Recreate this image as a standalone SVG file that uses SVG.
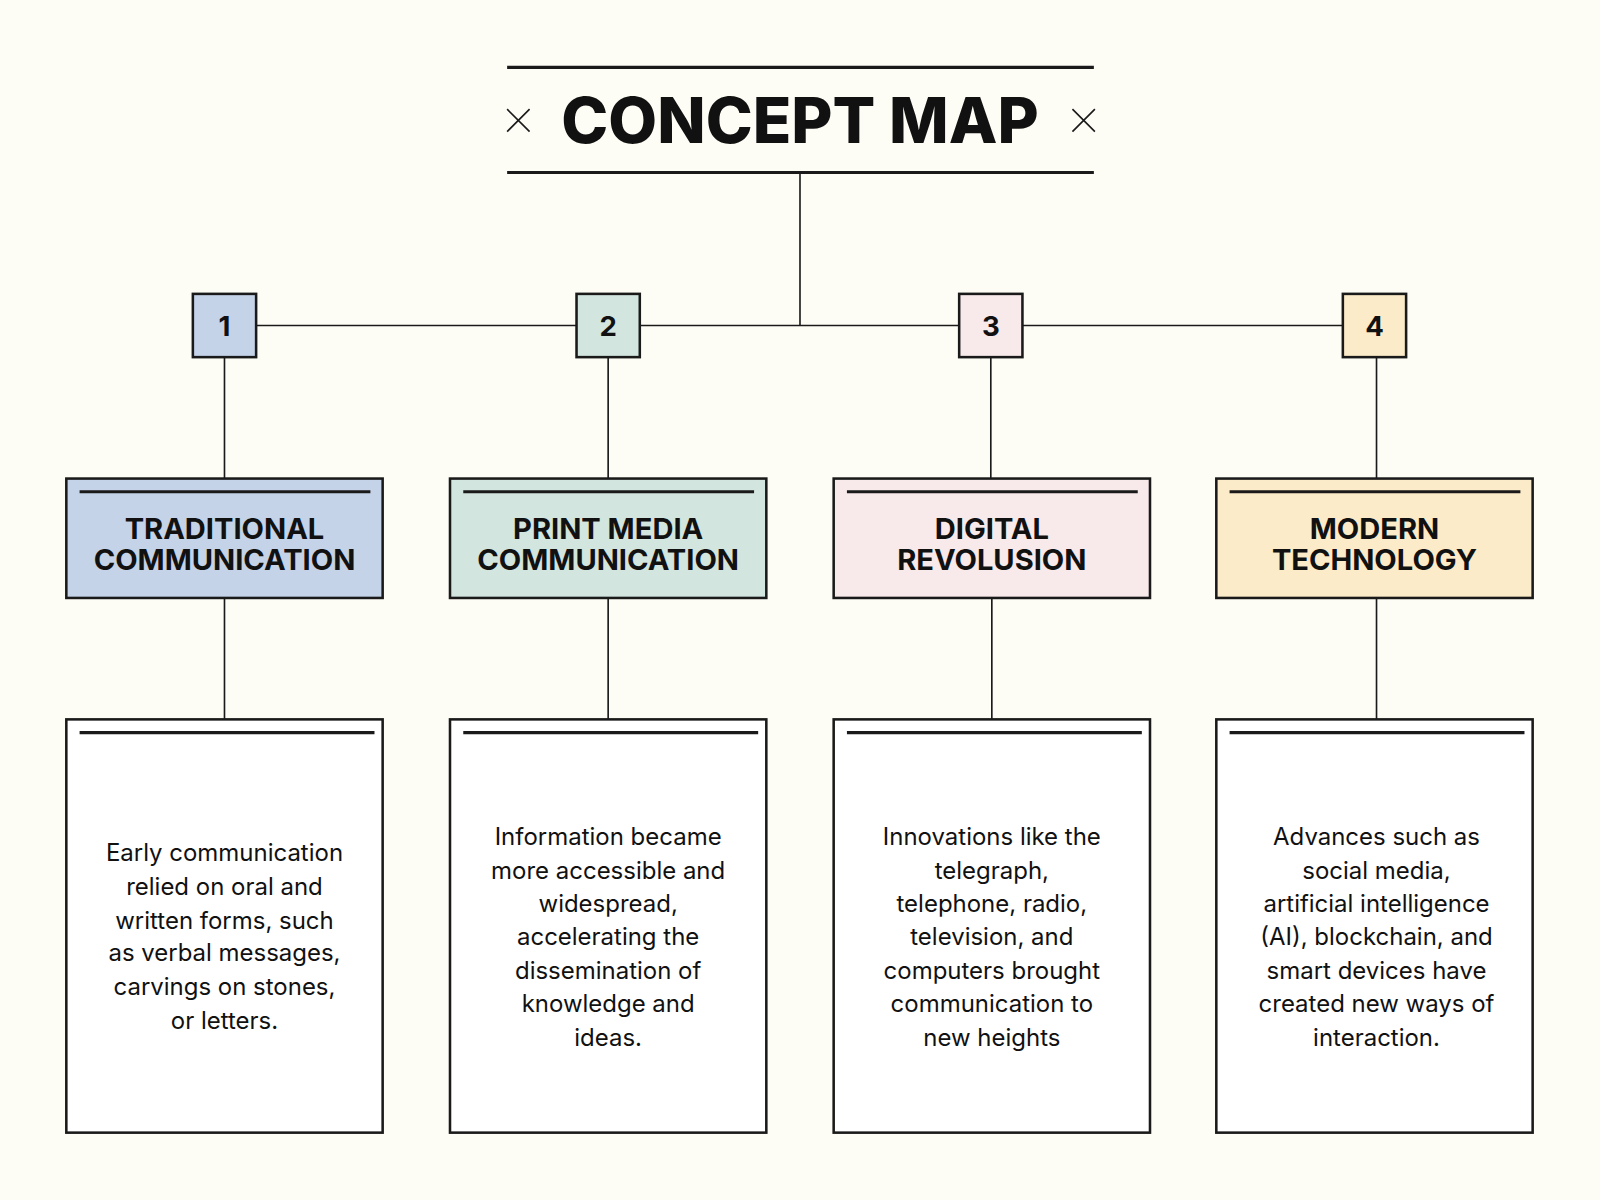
<svg xmlns="http://www.w3.org/2000/svg" width="1600" height="1200" viewBox="0 0 1600 1200">
<style>
.ln{stroke:#1a1a1a;stroke-width:1.6;fill:none}
.bx{stroke:#1a1a1a;stroke-width:2.5}
.th{stroke:#1a1a1a;stroke-width:3}
.num{font-family:Inter,"Liberation Sans",sans-serif;font-weight:700;font-size:27px;text-anchor:middle;fill:#111}
.hd{font-family:Inter,"Liberation Sans",sans-serif;font-weight:700;font-size:28.5px;text-anchor:middle;fill:#111}
.bd{font-family:Inter,"Liberation Sans",sans-serif;font-size:23.5px;text-anchor:middle;fill:#111}
</style>
<rect width="1600" height="1200" fill="#fefdf5"/>
<g transform="scale(1.0204)">
<g id="title">
<line class="th" x1="497" y1="66" x2="1072" y2="66"/>
<line class="th" x1="497" y1="169" x2="1072" y2="169"/>
<path class="ln" stroke-width="2.5" d="M497 107l22 22M519 107l-22 22M1051 107l22 22M1073 107l-22 22"/>
<text x="784" y="140" font-family="Inter,'Liberation Sans',sans-serif" font-weight="800" font-size="62" text-anchor="middle" fill="#111">CONCEPT MAP</text>
</g>
<g id="connectors">
<line class="ln" x1="784" y1="169" x2="784" y2="319"/>
<line class="ln" x1="220" y1="319" x2="1347" y2="319"/>
<path class="ln" d="M220 350V469M596 350V469M971 350V469M1349 350V469M220 586V705M596 586V705M972 586V705M1349 586V705"/>
</g>
<g id="n1"><rect class="bx" x="189" y="288" width="62" height="62" fill="#c5d3e8"/><text class="num" x="220" y="329">1</text></g>
<g id="n2"><rect class="bx" x="565" y="288" width="62" height="62" fill="#d3e5df"/><text class="num" x="596" y="329">2</text></g>
<g id="n3"><rect class="bx" x="940" y="288" width="62" height="62" fill="#f8e9ea"/><text class="num" x="971" y="329">3</text></g>
<g id="n4"><rect class="bx" x="1316" y="288" width="62" height="62" fill="#fbebc8"/><text class="num" x="1347" y="329">4</text></g>
<g id="h1"><rect class="bx" x="65" y="469" width="310" height="117" fill="#c5d3e8"/><line class="th" x1="78" y1="482" x2="363" y2="482"/><text class="hd" x="220" y="528">TRADITIONAL</text><text class="hd" x="220" y="559">COMMUNICATION</text></g>
<g id="h2"><rect class="bx" x="441" y="469" width="310" height="117" fill="#d3e5df"/><line class="th" x1="454" y1="482" x2="739" y2="482"/><text class="hd" x="596" y="528">PRINT MEDIA</text><text class="hd" x="596" y="559">COMMUNICATION</text></g>
<g id="h3"><rect class="bx" x="817" y="469" width="310" height="117" fill="#f8e9ea"/><line class="th" x1="830" y1="482" x2="1115" y2="482"/><text class="hd" x="972" y="528">DIGITAL</text><text class="hd" x="972" y="559">REVOLUSION</text></g>
<g id="h4"><rect class="bx" x="1192" y="469" width="310" height="117" fill="#fbebc8"/><line class="th" x1="1205" y1="482" x2="1490" y2="482"/><text class="hd" x="1347" y="528">MODERN</text><text class="hd" x="1347" y="559">TECHNOLOGY</text></g>
<g id="b1"><rect class="bx" x="65" y="705" width="310" height="405" fill="#fff"/><line class="th" x1="78" y1="718" x2="367" y2="718"/>
<text class="bd" x="220" y="844">Early communication</text><text class="bd" x="220" y="877">relied on oral and</text><text class="bd" x="220" y="910">written forms, such</text><text class="bd" x="220" y="942">as verbal messages,</text><text class="bd" x="220" y="975">carvings on stones,</text><text class="bd" x="220" y="1008">or letters.</text></g>
<g id="b2"><rect class="bx" x="441" y="705" width="310" height="405" fill="#fff"/><line class="th" x1="454" y1="718" x2="743" y2="718"/>
<text class="bd" x="596" y="828">Information became</text><text class="bd" x="596" y="861">more accessible and</text><text class="bd" x="596" y="894">widespread,</text><text class="bd" x="596" y="926">accelerating the</text><text class="bd" x="596" y="959">dissemination of</text><text class="bd" x="596" y="992">knowledge and</text><text class="bd" x="596" y="1025">ideas.</text></g>
<g id="b3"><rect class="bx" x="817" y="705" width="310" height="405" fill="#fff"/><line class="th" x1="830" y1="718" x2="1119" y2="718"/>
<text class="bd" x="972" y="828">Innovations like the</text><text class="bd" x="972" y="861">telegraph,</text><text class="bd" x="972" y="894">telephone, radio,</text><text class="bd" x="972" y="926">television, and</text><text class="bd" x="972" y="959">computers brought</text><text class="bd" x="972" y="992">communication to</text><text class="bd" x="972" y="1025">new heights</text></g>
<g id="b4"><rect class="bx" x="1192" y="705" width="310" height="405" fill="#fff"/><line class="th" x1="1205" y1="718" x2="1494" y2="718"/>
<text class="bd" x="1349" y="828">Advances such as</text><text class="bd" x="1349" y="861">social media,</text><text class="bd" x="1349" y="894">artificial intelligence</text><text class="bd" x="1349" y="926">(AI), blockchain, and</text><text class="bd" x="1349" y="959">smart devices have</text><text class="bd" x="1349" y="992">created new ways of</text><text class="bd" x="1349" y="1025">interaction.</text></g>
</g>
</svg>
